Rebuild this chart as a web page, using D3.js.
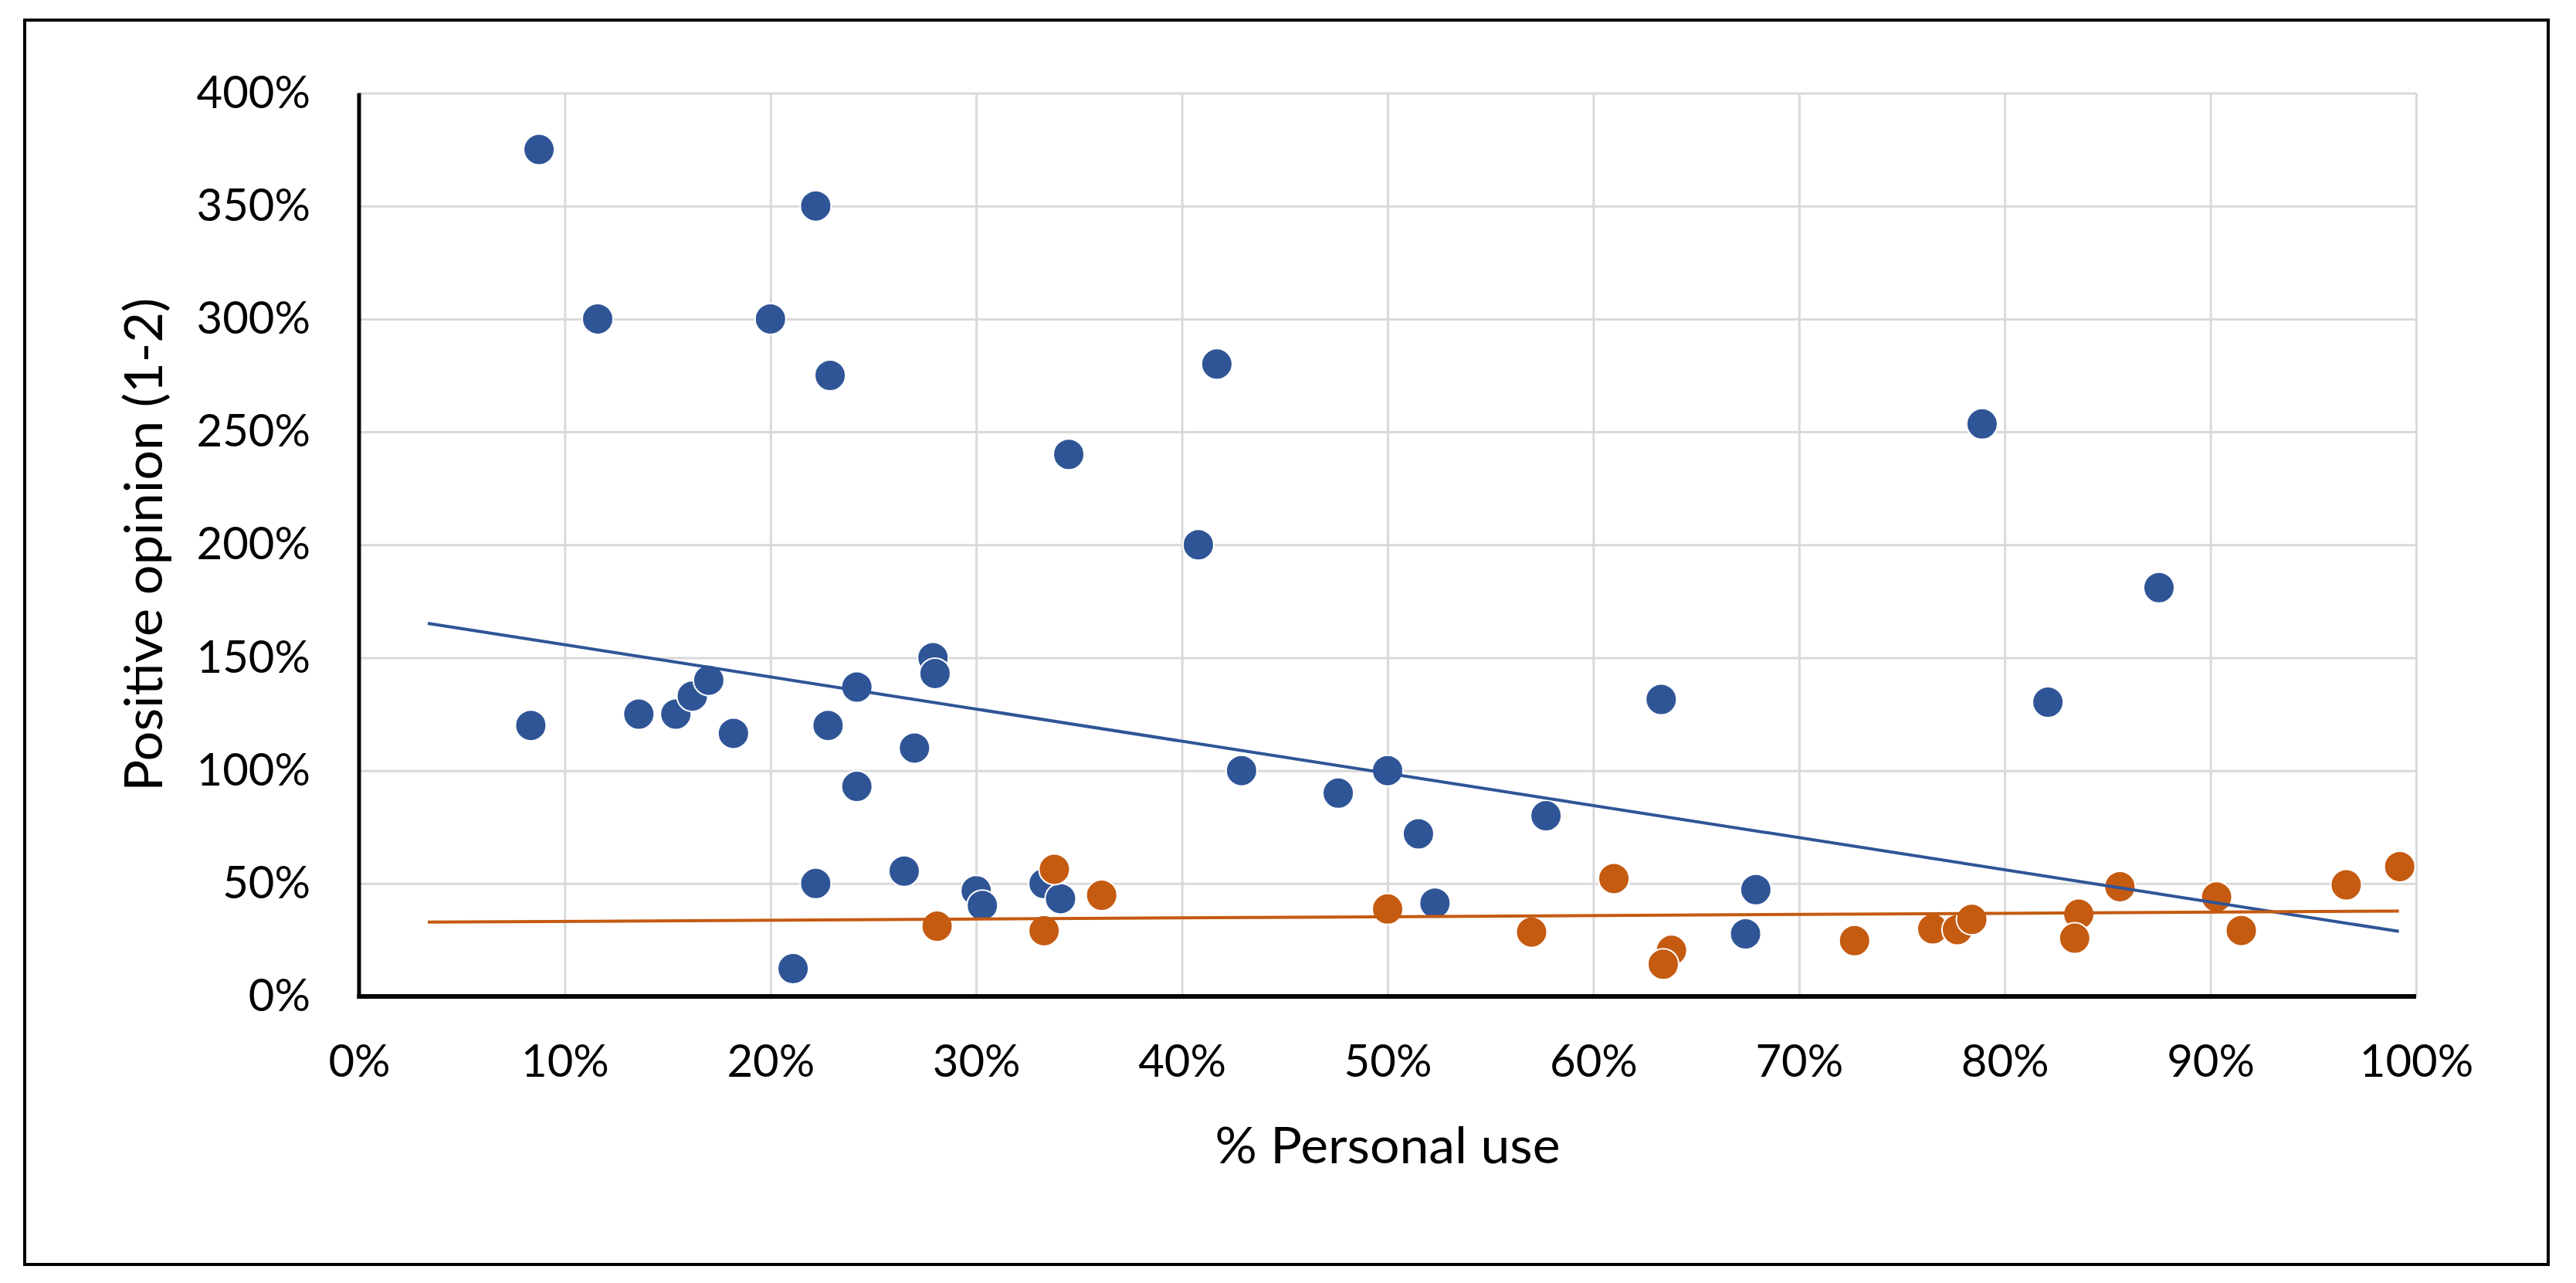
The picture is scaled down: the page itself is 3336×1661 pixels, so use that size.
<!DOCTYPE html>
<html>
<head>
<meta charset="utf-8">
<script src="https://cdn.jsdelivr.net/npm/d3@7"></script>
<style>
  body { margin: 0; background: #ffffff; }
</style>
</head>
<body>
<div id="vis"></div>
<script>

// chart data
const X_TICKS = [0, 0.1, 0.2, 0.3, 0.4, 0.5, 0.6, 0.7, 0.8, 0.9, 1.0];
const Y_TICKS = [0, 0.5, 1.0, 1.5, 2.0, 2.5, 3.0, 3.5, 4.0];

const X_TITLE = "% Personal use";
const Y_TITLE = "Positive opinion (1-2)";

// blue series
const BLUE_X = [0.0875, 0.222, 0.116, 0.200, 0.229, 0.417, 0.345, 0.408, 0.789, 0.875,
                0.0835, 0.136, 0.154, 0.162, 0.170, 0.182, 0.228, 0.242, 0.242, 0.279,
                0.280, 0.270, 0.265, 0.222, 0.211, 0.300, 0.303, 0.333, 0.341, 0.429,
                0.476, 0.500, 0.515, 0.577, 0.523, 0.633, 0.679, 0.674, 0.821];
const BLUE_Y = [3.75, 3.50, 3.00, 3.00, 2.75, 2.80, 2.40, 2.00, 2.535, 1.81,
                1.20, 1.25, 1.25, 1.33, 1.40, 1.165, 1.20, 1.37, 0.93, 1.50,
                1.43, 1.10, 0.555, 0.50, 0.123, 0.468, 0.403, 0.50, 0.433, 1.00,
                0.90, 1.00, 0.72, 0.80, 0.413, 1.315, 0.473, 0.277, 1.303];

// orange series
const ORANGE_X = [0.281, 0.333, 0.338, 0.361, 0.500, 0.570, 0.610, 0.638, 0.634, 0.727,
                  0.765, 0.777, 0.784, 0.836, 0.834, 0.856, 0.903, 0.915, 0.966, 0.992];
const ORANGE_Y = [0.311, 0.291, 0.563, 0.448, 0.387, 0.285, 0.522, 0.204, 0.143, 0.247,
                  0.299, 0.296, 0.341, 0.364, 0.258, 0.486, 0.440, 0.292, 0.494, 0.575];

// linear trendlines (end points)
const BLUE_TREND_X = [0.0334, 0.9916];
const BLUE_TREND_Y = [1.652, 0.288];
const ORANGE_TREND_X = [0.0334, 0.9916];
const ORANGE_TREND_Y = [0.329, 0.378];

const BLUE = "#2f5597";
const ORANGE = "#c55a11";

// frame constants
const FRAME_WIDTH = 3336;
const FRAME_HEIGHT = 1661;
const MARGINS = {left: 465, right: 207, top: 120.5, bottom: 371};

const VIS_WIDTH = FRAME_WIDTH - MARGINS.left - MARGINS.right;
const VIS_HEIGHT = FRAME_HEIGHT - MARGINS.top - MARGINS.bottom;

const FONT = "Lato, 'Open Sans', sans-serif";

const FRAME = d3.select("#vis")
                .append("svg")
                  .attr("width", FRAME_WIDTH)
                  .attr("height", FRAME_HEIGHT);

// outer border
FRAME.append("rect")
      .attr("x", 32)
      .attr("y", 26)
      .attr("width", 3268)
      .attr("height", 1611)
      .attr("fill", "none")
      .attr("stroke", "#000")
      .attr("stroke-width", 4);

// scales
const X_SCALE = d3.scaleLinear()
                  .domain([0, 1])
                  .range([0, VIS_WIDTH]);
const Y_SCALE = d3.scaleLinear()
                  .domain([0, 4])
                  .range([VIS_HEIGHT, 0]);

const PLOT = FRAME.append("g")
                  .attr("transform", "translate(" + MARGINS.left + "," + MARGINS.top + ")");

// y axis with gridlines
const Y_AXIS = PLOT.append("g")
    .call(d3.axisLeft(Y_SCALE)
            .tickValues(Y_TICKS)
            .tickSize(-VIS_WIDTH)
            .tickPadding(63)
            .tickFormat(d3.format(".0%")));

// x axis with gridlines
const X_AXIS = PLOT.append("g")
    .attr("transform", "translate(0," + VIS_HEIGHT + ")")
    .call(d3.axisBottom(X_SCALE)
            .tickValues(X_TICKS)
            .tickSize(-VIS_HEIGHT)
            .tickPadding(63)
            .tickFormat(d3.format(".0%")));

[X_AXIS, Y_AXIS].forEach((ax) => {
  ax.attr("font-size", "58px").attr("font-family", FONT);
  ax.select(".domain").remove();
  ax.selectAll(".tick line")
      .attr("stroke", "#d9d9d9")
      .attr("stroke-width", 3);
  ax.selectAll(".tick text").attr("fill", "#000");
});

// axis lines
PLOT.append("line")
    .attr("x1", 0).attr("x2", 0)
    .attr("y1", 0).attr("y2", VIS_HEIGHT + 3)
    .attr("stroke", "#000")
    .attr("stroke-width", 5);
PLOT.append("line")
    .attr("x1", -2.5).attr("x2", VIS_WIDTH)
    .attr("y1", VIS_HEIGHT).attr("y2", VIS_HEIGHT)
    .attr("stroke", "#000")
    .attr("stroke-width", 6);

// points
function drawPoints(xs, ys, color) {
  PLOT.append("g")
      .selectAll("circle")
      .data(xs.map((x, i) => ({x: x, y: ys[i]})))
      .enter()
      .append("circle")
        .attr("cx", (d) => X_SCALE(d.x))
        .attr("cy", (d) => Y_SCALE(d.y))
        .attr("r", 20)
        .attr("fill", color)
        .attr("stroke", "#fff")
        .attr("stroke-width", 2);
}
drawPoints(BLUE_X, BLUE_Y, BLUE);
drawPoints(ORANGE_X, ORANGE_Y, ORANGE);

// trendlines
const LINE = d3.line()
               .x((d) => X_SCALE(d[0]))
               .y((d) => Y_SCALE(d[1]));

PLOT.append("path")
    .attr("d", LINE(BLUE_TREND_X.map((x, i) => [x, BLUE_TREND_Y[i]])))
    .attr("fill", "none")
    .attr("stroke", BLUE)
    .attr("stroke-width", 4);
PLOT.append("path")
    .attr("d", LINE(ORANGE_TREND_X.map((x, i) => [x, ORANGE_TREND_Y[i]])))
    .attr("fill", "none")
    .attr("stroke", ORANGE)
    .attr("stroke-width", 4);

// axis titles
FRAME.append("text")
    .attr("x", MARGINS.left + VIS_WIDTH / 2)
    .attr("y", 1506)
    .attr("text-anchor", "middle")
    .attr("font-family", FONT)
    .attr("font-size", "66px")
    .attr("textLength", 447)
    .attr("lengthAdjust", "spacingAndGlyphs")
    .text(X_TITLE);

FRAME.append("text")
    .attr("transform", "translate(210," + (MARGINS.top + VIS_HEIGHT / 2) + ") rotate(-90)")
    .attr("text-anchor", "middle")
    .attr("font-family", FONT)
    .attr("font-size", "68px")
    .attr("textLength", 639)
    .attr("lengthAdjust", "spacingAndGlyphs")
    .text(Y_TITLE);

</script>
</body>
</html>
